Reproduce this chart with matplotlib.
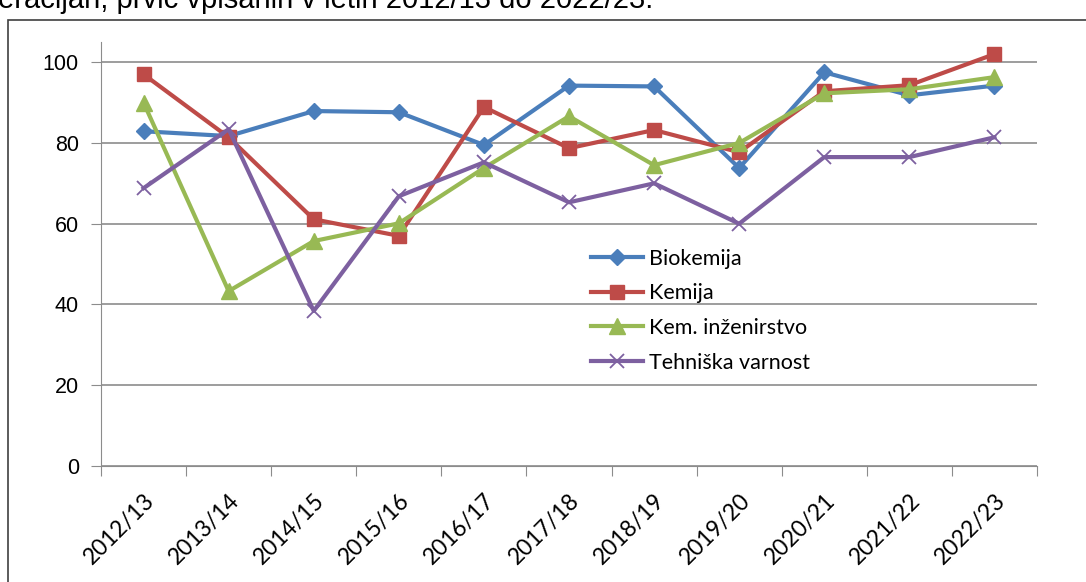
import matplotlib
matplotlib.use("Agg")
from matplotlib import pyplot as plt
from matplotlib.patches import Rectangle

# podatki
leta = ["2012/13", "2013/14", "2014/15", "2015/16", "2016/17", "2017/18",
        "2018/19", "2019/20", "2020/21", "2021/22", "2022/23"]
biokemija = [82.9, 81.7, 87.9, 87.6, 79.5, 94.2, 94.0, 73.8, 97.5, 91.8, 94.2]
kemija = [97.0, 81.4, 61.1, 57.0, 88.9, 78.7, 83.2, 77.7, 92.8, 94.3, 102.0]
kem_inz = [90.0, 43.3, 55.7, 60.1, 73.8, 86.6, 74.5, 80.0, 92.3, 93.3, 96.3]
teh_varnost = [68.8, 83.4, 38.4, 66.8, 75.2, 65.3, 70.0, 60.0, 76.5, 76.5, 81.4]

serije = [
    ("Biokemija", biokemija, "#4a7ebb", "D", 8),
    ("Kemija", kemija, "#be4b48", "s", 10),
    ("Kem. inženirstvo", kem_inz, "#98b954", "^", 11),
    ("Tehniška varnost", teh_varnost, "#7d60a0", "x", 10),
]

fig = plt.figure(figsize=(10.86, 5.82), dpi=100)

# okvir grafa (odrezan desno in spodaj)
fig.patches.append(Rectangle((8 / 1086, -0.05), 1.1, 1 - 20 / 582 + 0.05,
                             transform=fig.transFigure, fill=False,
                             edgecolor="#404040", linewidth=1.2))

# odrezan naslov na vrhu (kot v izvirniku)
fig.text(-2 / 1086, 1 - 8 / 582, "eracijah, prvič vpisanih v letih 2012/13 do 2022/23.",
         fontsize=21, family="Liberation Sans", va="baseline", ha="left")

ax = fig.add_axes([101 / 1086, 1 - 466 / 582, (1037 - 101) / 1086, (466 - 42) / 582])

x = list(range(len(leta)))
for ime, vrednosti, barva, marker, ms in serije:
    if marker == "x":
        ax.plot(x, vrednosti, color=barva, linewidth=3, marker=marker,
                markersize=ms, markeredgewidth=1.3, label=ime)
    else:
        ax.plot(x, vrednosti, color=barva, linewidth=3, marker=marker,
                markersize=ms, label=ime)

ax.set_xlim(-0.5, len(leta) - 0.5)
ax.set_ylim(0, 105)
ax.set_yticks([0, 20, 40, 60, 80, 100])
ax.yaxis.grid(True, color="#8c8c8c", linewidth=1.2)
ax.set_axisbelow(True)

for s in ["top", "right"]:
    ax.spines[s].set_visible(False)
ax.spines["left"].set_color("#8c8c8c")
ax.spines["bottom"].set_color("#8c8c8c")

ax.set_xticks([i - 0.5 for i in range(len(leta) + 1)], minor=False)
ax.set_xticklabels([])
ax.set_xticks(x, minor=True)
ax.set_xticklabels(leta, minor=True, rotation=45, ha="right", rotation_mode="anchor",
                   fontsize=16.5, family="Lato")
ax.tick_params(axis="x", which="major", length=7, color="#8c8c8c")
ax.tick_params(axis="x", which="minor", length=0, pad=17)
ax.tick_params(axis="y", length=7, color="#8c8c8c", pad=9)
for lab in ax.get_yticklabels():
    lab.set_family("Liberation Sans")
    lab.set_fontsize(15.5)

ax.legend(loc="upper left", bbox_to_anchor=(481 / 936, (466 - 240) / 424),
          frameon=False, prop={"family": "Lato", "size": 15.5},
          handlelength=2.45, handletextpad=0.28, labelspacing=0.68, borderaxespad=0)

fig.savefig("out.png", dpi=100)
